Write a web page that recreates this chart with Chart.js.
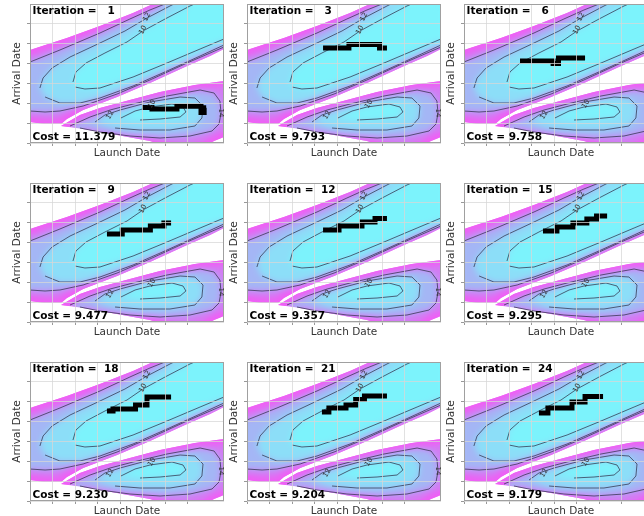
<!DOCTYPE html>
<html>
<head>
<meta charset="utf-8">
<script src="https://cdn.jsdelivr.net/npm/chart.js@4.4.0/dist/chart.umd.min.js"></script>
<style>
  html, body { margin: 0; padding: 0; background: #fff; overflow: hidden; }
  #wrap { position: relative; width: 644px; height: 516px; overflow: hidden; }
  #wrap canvas { position: absolute; }
</style>
</head>
<body>
<div id="wrap"></div>
<script>
// optimiser snapshots
const iterations = [1, 3, 6, 9, 12, 15, 18, 21, 24];
const costs = [11.379, 9.793, 9.758, 9.477, 9.357, 9.295, 9.230, 9.204, 9.179];

// cost contours, [launch, arrival] in days
const upperCut = [[-6.7,44],[0,46.5],[16.4,52.5],[31.1,58.5],[45.8,65],[55.6,70],[64.4,74],[93.3,85],
  [93.3,49.5],[86.2,47],[80,43.5],[69.8,38.5],[53.3,30],[38.7,23],[23.6,16.5],[16.4,12],[13.8,9.5],
  [6.7,9.5],[0,10.5],[-6.7,11]];
const upper14 = [[-6.7,38],[0,40.5],[13.3,46.5],[31.1,55],[44.4,62],[53.3,66.5],[62.2,70.5],[75.6,76],
  [93.3,83],[93.3,51],[86.2,48],[69.8,40],[53.3,31.5],[38.7,24.5],[23.6,18.5],[13.3,16],[6.7,15.5],
  [0,16],[-6.7,16]];
const upper12 = [[4.4,27.5],[5.8,32.5],[9.8,37.5],[17.8,43],[31.1,50],[42.2,56],[52,62.5],[62.2,68.5],
  [71.1,73.5],[93.3,81.5],[93.3,52.5],[86.2,49],[75.6,43.5],[60.9,36],[45.8,28.5],[31.1,22.5],[22.2,20],
  [13.3,20],[6.7,23]];
const upper10 = [[19.1,30.5],[20.4,35.5],[24.9,40],[33.3,45],[43.1,50.5],[50.2,56],[60,62],[71.1,68.5],
  [82.2,74],[93.3,78.5],[93.3,55.5],[86.2,52],[75.6,47],[60.9,40],[45.8,33],[31.1,27.5],[24.4,27],[20,28]];
const lowerCut = [[13.8,8.5],[22.2,14],[31.1,17.5],[44.4,21.5],[57.8,25.5],[73.3,29],[86.2,31],[93.3,32],
  [93.3,4.5],[86.2,3],[81.8,1],[77.8,-1.5],[68.9,-2.5],[60,-1.5],[53.3,1],[38.7,4],[23.6,7]];
const lower14 = [[17.8,8.5],[26.7,13],[35.6,16.5],[45.8,19.5],[60.9,23.5],[75.6,26.5],[81.8,25],[84.4,21],
  [84.9,15],[84,9.5],[80.9,6],[71.1,3.5],[57.8,2.5],[44.4,3.5],[31.1,5.5],[22.2,7.5]];
const lower12 = [[28.9,10.5],[33.3,14],[40,16.5],[53.3,20.5],[66.7,23],[73.3,22.5],[76.9,18.5],[76.4,12.5],
  [73.3,8.5],[62.2,6.5],[48.9,6.5],[37.8,7.5]];
const lower10 = [[40.4,12.5],[46.7,16],[53.3,18],[63.1,19.5],[68,18],[69.3,15.5],[66.7,13],[57.8,12],
  [48.9,11.5]];

// design history shown at each snapshot
const paths = [
  [[49.8,17.8],[54.2,17.8],[54.2,17],[65.3,17],[65.3,18.4],[76,18.4],[76,15.3],[77.4,15.3],[77.4,17.6],[78.3,17.6]],
  [[33.8,47.5],[45.3,47.5],[45.3,49.3],[58.9,49.3],[58.9,47.5],[62.2,47.5]],
  [[24.9,41],[39.6,41],[39.6,39.8],[42,39.8],[42,42.5],[53.8,42.5]],
  [[34.2,44],[41,44],[41,46],[53.5,46],[53.5,48],[59.5,48],[59.5,49.5],[62.7,49.5]],
  [[33.8,46],[40.9,46],[40.9,48],[51.1,48],[51.1,50],[56.9,50],[56.9,51.75],[62.2,51.75]],
  [[35.1,45.5],[41.3,45.5],[41.3,47.5],[48.4,47.5],[48.4,49.5],[54.6,49.5],[54.6,51.5],[58.9,51.5],[58.9,53],[63.6,53]],
  [[34.2,45],[36.9,45],[36.9,46],[46.9,46],[46.9,48],[52,48],[52,52],[62.7,52]],
  [[33.3,44.5],[36.4,44.5],[36.4,46.5],[44,46.5],[44,48],[48.3,48],[48.3,50.7],[52.2,50.7],[52.2,52.5],[62.2,52.5]],
  [[33.3,44],[37.3,44],[37.3,46.5],[48,46.5],[48,49.5],[53.8,49.5],[53.8,52.3],[61.8,52.3]]
];

const contourLabels = [
  {text: '12', x: 52, y: 63, rot: -62},
  {text: '10', x: 50.2, y: 56.5, rot: -62},
  {text: '12', x: 35.6, y: 14, rot: -60},
  {text: '10', x: 54.2, y: 19.5, rot: -60},
  {text: '14', x: 84.9, y: 15, rot: 90}
];

const bands = [
  [upperCut, 'cut'], [lowerCut, 'cut'],
  [upper14, 14], [lower14, 14],
  [upper12, 12], [lower12, 12],
  [upper10, 10], [lower10, 10]
];
const bandColor = {cut: '#d27cf3', 14: '#a4b6f5', 12: '#8cdef8', 10: '#7cf3fc'};
const rimColor = '#f05ef5';
const lineColor = 'rgba(45,45,70,0.8)';

Chart.defaults.font.family = '"DejaVu Sans", sans-serif';

const xy = pts => pts.map(p => ({x: p[0], y: p[1]}));

// smooth the filled bands into a gradient, keeping the outer edge sharp
const soften = {
  id: 'soften',
  afterDatasetDraw(chart, args) {
    if (!chart.data.datasets[args.index].lastFill) return;
    const {ctx, canvas, chartArea: a} = chart;
    const off = document.createElement('canvas');
    off.width = canvas.width; off.height = canvas.height;
    off.getContext('2d').drawImage(canvas, 0, 0);
    const lobes = () => chart.data.datasets.forEach((ds, j) => {
      if (!ds.edge) return;
      chart.getDatasetMeta(j).data.forEach((pt, n) => n ? ctx.lineTo(pt.x, pt.y) : ctx.moveTo(pt.x, pt.y));
      ctx.closePath();
    });
    ctx.save();
    ctx.beginPath();
    ctx.rect(a.left, a.top, a.width, a.height);
    ctx.clip();
    ctx.beginPath();
    ctx.rect(a.left, a.top, a.width, a.height);
    lobes();
    ctx.globalCompositeOperation = 'destination-out';
    ctx.fill('evenodd');
    ctx.globalCompositeOperation = 'source-over';
    ctx.beginPath();
    lobes();
    ctx.clip();
    ctx.filter = 'blur(3px)';
    ctx.drawImage(off, 0, 0);
    ctx.restore();
  }
};

const frame = {
  id: 'frame',
  afterDraw(chart) {
    const {ctx, chartArea: a} = chart;
    ctx.save();
    ctx.strokeStyle = '#a0a0a0';
    ctx.lineWidth = 1;
    ctx.strokeRect(a.left + 0.5, a.top + 0.5, a.width - 1, a.height - 1);
    ctx.restore();
  }
};

const panelText = {
  id: 'panelText',
  afterDraw(chart, args, opts) {
    const {ctx, chartArea: a, scales} = chart;
    ctx.save();
    ctx.fillStyle = '#333';
    ctx.font = '7px "DejaVu Sans"';
    ctx.textAlign = 'center';
    ctx.textBaseline = 'middle';
    contourLabels.forEach(l => {
      ctx.save();
      ctx.translate(scales.x.getPixelForValue(l.x), scales.y.getPixelForValue(l.y));
      ctx.rotate(l.rot * Math.PI / 180);
      ctx.fillText(l.text, 0, 0);
      ctx.restore();
    });
    ctx.fillStyle = '#000';
    ctx.font = 'bold 10.5px "DejaVu Sans"';
    ctx.textAlign = 'left';
    ctx.textBaseline = 'alphabetic';
    ctx.fillText(opts.top, a.left + 2.5, a.top + 10);
    ctx.fillText(opts.bottom, a.left + 2.5, a.bottom - 3);
    ctx.restore();
  }
};

const W = 224, H = 177;
const cellLeft = [0, 217, 434];
const cellTop = [0, 179, 358];
const wrap = document.getElementById('wrap');
const gridColor = 'rgba(215,215,215,0.75)';

iterations.forEach((it, i) => {
  const canvas = document.createElement('canvas');
  canvas.width = W; canvas.height = H;
  canvas.style.left = cellLeft[i % 3] + 'px';
  canvas.style.top = cellTop[Math.floor(i / 3)] + 'px';
  wrap.appendChild(canvas);

  const datasets = [{
    data: xy(paths[i]), borderColor: '#000', borderWidth: 5, borderCapStyle: 'butt',
    borderJoinStyle: 'miter', pointRadius: 0, fill: false, order: 0
  }];
  bands.forEach(([pts, lvl], k) => {
    const cut = lvl === 'cut';
    datasets.push({
      data: xy(pts), fill: 'shape', backgroundColor: bandColor[lvl],
      borderColor: cut ? rimColor : 'rgba(0,0,0,0)', borderWidth: cut ? 10 : 0, clip: 0,
      pointRadius: 0, tension: 0, order: 100 - k,
      edge: cut, lastFill: k === bands.length - 1
    });
    if (!cut) {
      datasets.push({
        data: xy(pts), fill: false, borderColor: lineColor, borderWidth: 0.9,
        pointRadius: 0, tension: 0, order: 50 - k
      });
    }
  });

  const axisTitle = (text, pad) => ({
    display: true, text, color: '#333', font: {size: 10.5}, padding: pad
  });

  new Chart(canvas.getContext('2d'), {
    type: 'line',
    data: {datasets},
    options: {
      responsive: false,
      animation: false,
      events: [],
      layout: {padding: {top: 4, right: 0, bottom: 0, left: 0}},
      plugins: {
        legend: {display: false},
        tooltip: {enabled: false},
        panelText: {
          top: 'Iteration = ' + String(it).padStart(3, ' '),
          bottom: 'Cost = ' + costs[i].toFixed(3)
        }
      },
      scales: {
        x: {
          type: 'linear', min: 0, max: 86.22,
          ticks: {display: false, stepSize: 10},
          grid: {z: 1, color: gridColor, tickColor: '#999', tickLength: 3},
          border: {display: false},
          title: axisTitle('Launch Date', {top: 0, bottom: 17}),
          afterBuildTicks: s => { s.ticks = s.ticks.filter(t => t.value % 10 === 0); },
          afterFit: s => { s.height = H - 4 - 139; }
        },
        y: {
          type: 'linear', min: 0, max: 69.5,
          ticks: {display: false, stepSize: 10},
          grid: {z: 1, color: gridColor, tickColor: '#999', tickLength: 3},
          border: {display: false},
          title: axisTitle('Arrival Date', {top: 11, bottom: 0}),
          afterBuildTicks: s => { s.ticks = s.ticks.filter(t => t.value % 10 === 0); },
          afterFit: s => { s.width = 30; }
        }
      }
    },
    plugins: [soften, frame, panelText]
  });
});
</script>
</body>
</html>
